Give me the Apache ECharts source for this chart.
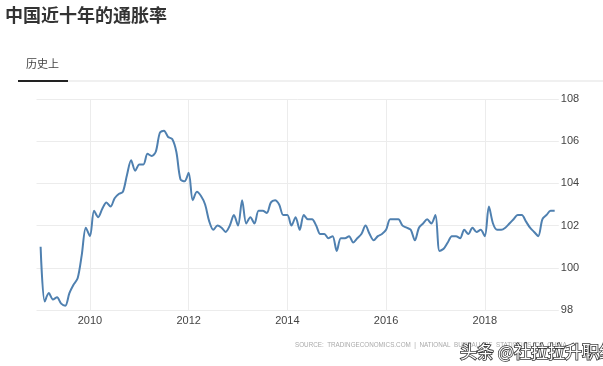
<!DOCTYPE html>
<html><head><meta charset="utf-8">
<script src="https://cdn.jsdelivr.net/npm/echarts@6/dist/echarts.min.js"></script>
<style>html,body{margin:0;padding:0;background:#fff}#c{width:603px;height:366px}</style>
</head><body><div id="c"></div>
<script>
// Monthly CPI (previous year = 100), 2009-01 .. 2019-06
const startYear = 2009;
const cpi2009 = [101.0, 98.4, 98.8, 98.5, 98.6, 98.3, 98.2, 98.8, 99.2, 99.5, 100.6, 101.9];
const cpi2010 = [101.5, 102.7, 102.4, 102.8, 103.1, 102.9, 103.3, 103.5, 103.6, 104.4, 105.1, 104.6];
const cpi2011 = [104.9, 104.9, 105.4, 105.3, 105.5, 106.4, 106.5, 106.2, 106.1, 105.5, 104.2, 104.1];
const cpi2012 = [104.5, 103.2, 103.6, 103.4, 103.0, 102.2, 101.8, 102.0, 101.9, 101.7, 102.0, 102.5];
const cpi2013 = [102.0, 103.2, 102.1, 102.4, 102.1, 102.7, 102.7, 102.6, 103.1, 103.2, 103.0, 102.5];
const cpi2014 = [102.5, 102.0, 102.4, 101.8, 102.5, 102.3, 102.3, 102.0, 101.6, 101.6, 101.4, 101.5];
const cpi2015 = [100.8, 101.4, 101.4, 101.5, 101.2, 101.4, 101.6, 102.0, 101.6, 101.3, 101.5, 101.6];
const cpi2016 = [101.8, 102.3, 102.3, 102.3, 102.0, 101.9, 101.8, 101.3, 101.9, 102.1, 102.3, 102.1];
const cpi2017 = [102.5, 100.8, 100.9, 101.2, 101.5, 101.5, 101.4, 101.8, 101.6, 101.9, 101.7, 101.8];
const cpi2018 = [101.5, 102.9, 102.1, 101.8, 101.8, 101.9, 102.1, 102.3, 102.5, 102.5, 102.2, 101.9];
const cpi2019 = [101.7, 101.5, 102.3, 102.5, 102.7, 102.7];
const yTicks = [98, 100, 102, 104, 106, 108];
const xTickYears = [2010, 2012, 2014, 2016, 2018];

const values = [].concat(cpi2009, cpi2010, cpi2011, cpi2012, cpi2013, cpi2014, cpi2015, cpi2016, cpi2017, cpi2018, cpi2019);
// categories: one padding month before and after the data
const categories = [];
const seriesData = [];
for (let i = -1; i <= values.length; i++) {
  const y = startYear + Math.floor(i / 12);
  const m = ((i % 12) + 12) % 12 + 1;
  categories.push(y + '-' + (m < 10 ? '0' + m : m));
  seriesData.push(i >= 0 && i < values.length ? values[i] : null);
}
const isTick = (idx) => {
  const c = categories[idx];
  return c.endsWith('-01') && xTickYears.indexOf(+c.slice(0, 4)) >= 0;
};

const chart = echarts.init(document.getElementById('c'), null, {renderer: 'canvas'});
chart.setOption({
  animation: false,
  title: {
    text: '中国近十年的通胀率', left: 0, top: 1,
    textStyle: {fontSize: 18, fontWeight: 'bold', color: '#333', fontFamily: 'Noto Sans CJK SC'}
  },
  grid: {left: 36.5, right: 44.2, top: 99, bottom: 56},
  xAxis: {
    type: 'category', data: categories, boundaryGap: false,
    axisLine: {show: false}, axisTick: {show: false},
    axisLabel: {
      interval: (idx) => isTick(idx),
      formatter: (v) => v.slice(0, 4),
      color: '#444', fontSize: 11, margin: 5, fontFamily: 'Liberation Sans'
    },
    splitLine: {show: true, interval: (idx) => isTick(idx), lineStyle: {color: '#ececec', width: 1}}
  },
  yAxis: {
    type: 'value', position: 'right', min: yTicks[0], max: yTicks[yTicks.length - 1], interval: 2,
    axisLine: {show: false}, axisTick: {show: false},
    axisLabel: {color: '#444', fontSize: 11, margin: 2, fontFamily: 'Liberation Sans'},
    splitLine: {lineStyle: {color: '#ececec', width: 1}}
  },
  series: [{
    type: 'line', data: seriesData, smooth: 0.3, showSymbol: false, connectNulls: false,
    lineStyle: {color: '#4f80b0', width: 2}, itemStyle: {color: '#4f80b0'}
  }],
  graphic: [
    {type: 'text', left: 26, top: 58, style: {text: '历史上', fontSize: 11, fill: '#444', fontFamily: 'Noto Sans CJK SC'}},
    {type: 'rect', shape: {x: 18, y: 80.5, width: 585, height: 1}, style: {fill: '#e2e2e2'}},
    {type: 'rect', shape: {x: 18, y: 80, width: 50, height: 2}, style: {fill: '#222'}},
    {type: 'text', x: 295, y: 345, style: {text: 'SOURCE:  TRADINGECONOMICS.COM  |  NATIONAL  BUREAU  OF  STATISTICS  OF  CHINA', fontSize: 6.3, fill: '#aaa', verticalAlign: 'middle', fontFamily: 'Liberation Sans'}},
    {type: 'text', x: 460, y: 352, style: {text: '头条 @社拉拉升职纪', fontSize: 17, fill: '#fff', stroke: '#333', lineWidth: 1.6, verticalAlign: 'middle', fontFamily: 'Noto Sans CJK SC'}}
  ]
});
</script></body></html>
